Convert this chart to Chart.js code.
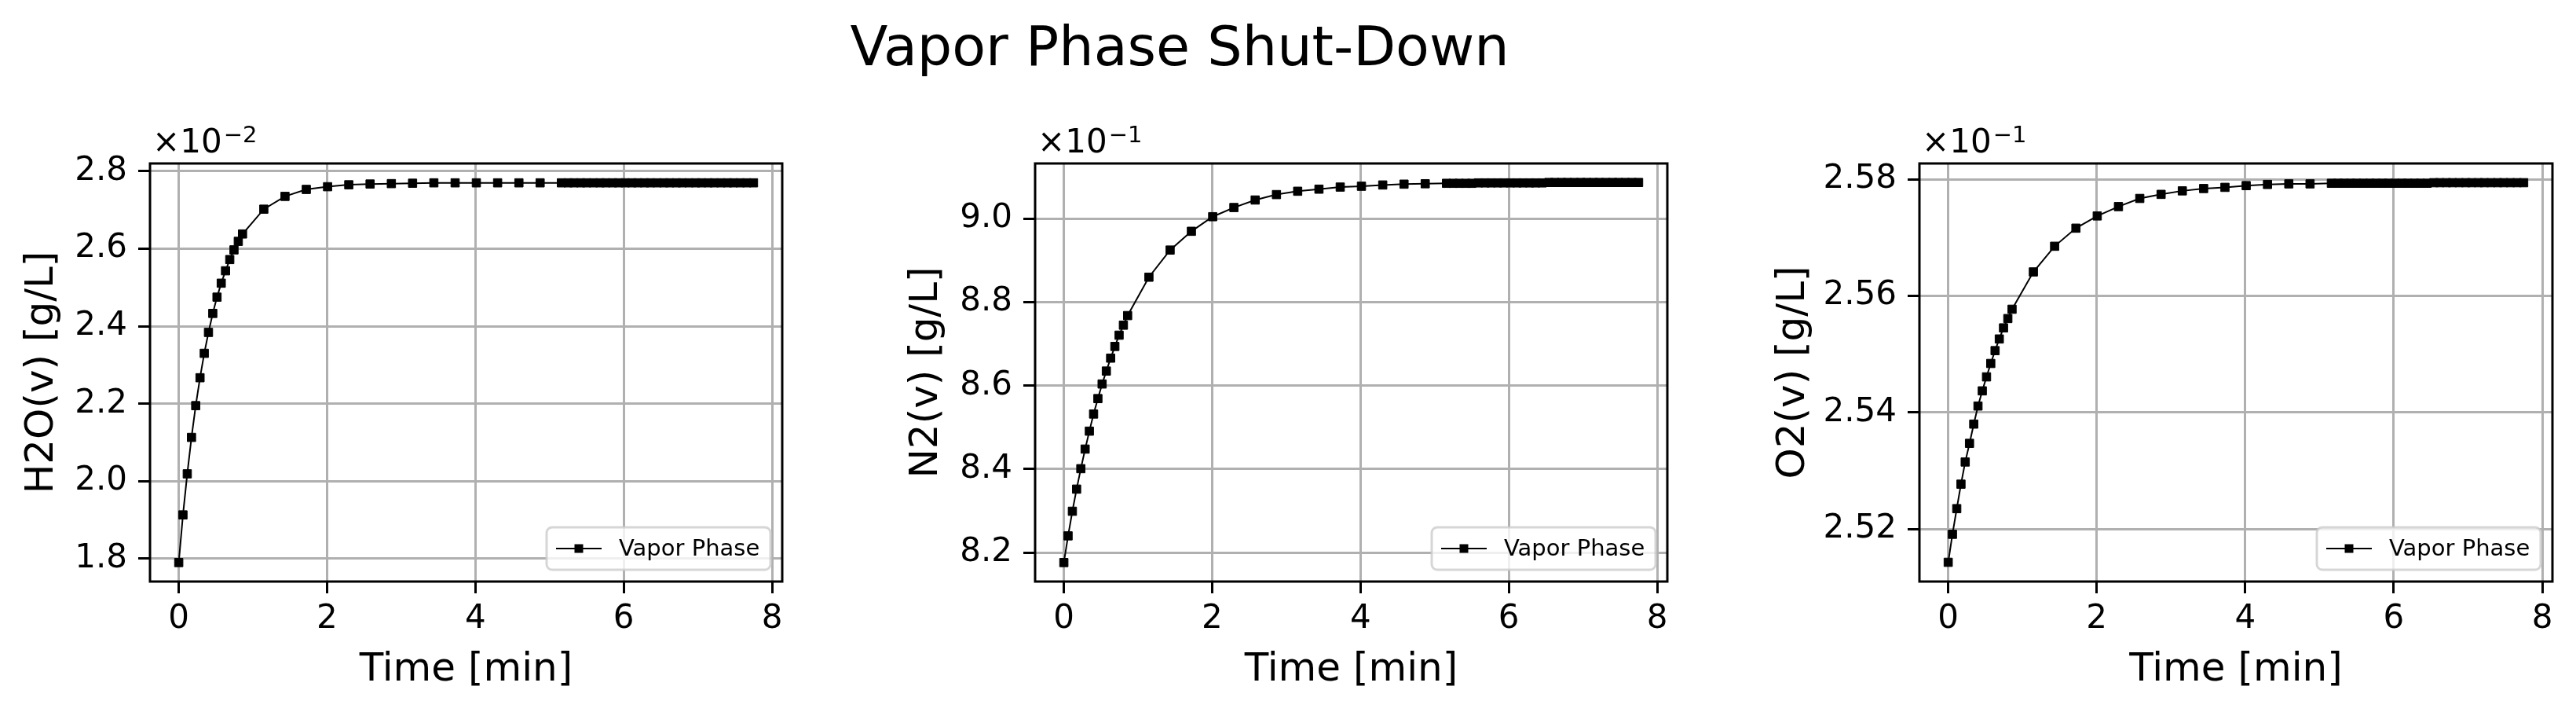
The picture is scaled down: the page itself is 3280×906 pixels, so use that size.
<!DOCTYPE html>
<html>
<head>
<meta charset="utf-8">
<script src="https://cdn.jsdelivr.net/npm/chart.js@4/dist/chart.umd.min.js"></script>
<style>
  html, body { margin: 0; padding: 0; background: #fff; }
  #wrap { position: relative; width: 3280px; height: 906px; overflow: hidden; }
  #wrap canvas { position: absolute; left: 0; top: 0; }
  #title {
    position: absolute; left: 1502px; top: 24px; transform: translateX(-50%);
    font: 70px "DejaVu Sans"; line-height: 1; white-space: nowrap; color: #000;
  }
</style>
</head>
<body>
<div id="wrap">
  <div id="title">Vapor Phase Shut-Down</div>
  <canvas id="c1" width="3280" height="906"></canvas>
  <canvas id="c2" width="3280" height="906"></canvas>
  <canvas id="c3" width="3280" height="906"></canvas>
</div>
<script>
// time [min]
const time = [0, 0.057, 0.115, 0.172, 0.229, 0.287, 0.344, 0.401, 0.459, 0.516, 0.573, 0.631, 0.688, 0.745, 0.803, 0.860,
  1.147, 1.433, 1.720, 2.007, 2.293, 2.580, 2.867, 3.153, 3.440, 3.727, 4.013, 4.300, 4.587, 4.873, 5.160,
  5.25, 5.33, 5.42, 5.50, 5.59, 5.68, 5.76, 5.85, 5.93, 6.02, 6.11, 6.19, 6.28, 6.36, 6.45,
  6.54, 6.62, 6.71, 6.79, 6.88, 6.97, 7.05, 7.14, 7.22, 7.31, 7.40, 7.48, 7.57, 7.66, 7.75];

// values as shown on the axes (H2O x1e-2, N2 and O2 x1e-1) [g/L]
const h2o = [1.790, 1.913, 2.019, 2.113, 2.195, 2.267, 2.330, 2.384, 2.433, 2.475, 2.511, 2.543, 2.572, 2.597, 2.619, 2.638,
  2.702, 2.735, 2.753, 2.760, 2.765, 2.767, 2.768, 2.769, 2.770, 2.770, 2.770, 2.770, 2.770, 2.770, 2.770,
  2.770, 2.770, 2.770, 2.770, 2.770, 2.770, 2.770, 2.770, 2.770, 2.770, 2.770, 2.770, 2.770, 2.770, 2.770,
  2.770, 2.770, 2.770, 2.770, 2.770, 2.770, 2.770, 2.770, 2.770, 2.770, 2.770, 2.770, 2.770, 2.770, 2.770];

const n2 = [8.176, 8.240, 8.299, 8.352, 8.401, 8.448, 8.491, 8.532, 8.569, 8.604, 8.635, 8.666, 8.694, 8.721, 8.745, 8.768,
  8.860, 8.925, 8.970, 9.005, 9.027, 9.045, 9.058, 9.066, 9.071, 9.076, 9.078, 9.081, 9.083, 9.084, 9.085,
  9.085, 9.085, 9.085, 9.085, 9.086, 9.086, 9.086, 9.086, 9.086, 9.086, 9.086, 9.086, 9.086, 9.086, 9.086,
  9.087, 9.087, 9.087, 9.087, 9.087, 9.087, 9.087, 9.087, 9.087, 9.087, 9.087, 9.087, 9.087, 9.087, 9.087];

const o2 = [2.5143, 2.5191, 2.5235, 2.5277, 2.5315, 2.5347, 2.5380, 2.5411, 2.5437, 2.5461, 2.5484, 2.5506, 2.5526, 2.5545, 2.5561, 2.5577,
  2.5641, 2.5685, 2.5716, 2.5737, 2.5753, 2.5767, 2.5774, 2.5780, 2.5784, 2.5786, 2.5789, 2.5791, 2.5792, 2.5792, 2.5793,
  2.5793, 2.5793, 2.5793, 2.5793, 2.5793, 2.5793, 2.5793, 2.5793, 2.5793, 2.5793, 2.5793, 2.5793, 2.5793, 2.5793, 2.5793,
  2.5794, 2.5794, 2.5794, 2.5794, 2.5794, 2.5794, 2.5794, 2.5794, 2.5794, 2.5794, 2.5794, 2.5794, 2.5794, 2.5794, 2.5794];

// tick values
const xTicks = [0, 2, 4, 6, 8];
const h2oTicks = [1.8, 2.0, 2.2, 2.4, 2.6, 2.8];
const n2Ticks = [8.2, 8.4, 8.6, 8.8, 9.0];
const o2Ticks = [2.52, 2.54, 2.56, 2.58];

const FONT = 'DejaVu Sans';
Chart.defaults.font.family = FONT;
Chart.defaults.color = '#000';

// spines, offset text (x10^n) and the in-axes legend
const framePlugin = {
  id: 'frame',
  afterDatasetsDraw(chart, args, opts) {
    const ctx = chart.ctx;
    const a = chart.chartArea;
    ctx.save();

    ctx.strokeStyle = '#000';
    ctx.lineWidth = 3;
    ctx.strokeRect(a.left, a.top, a.right - a.left, a.bottom - a.top);

    ctx.fillStyle = '#000';
    ctx.textAlign = 'left';
    ctx.textBaseline = 'alphabetic';
    ctx.font = '42px "' + FONT + '"';
    ctx.fillText('\u00d710', a.left + 3, 194);
    const w = ctx.measureText('\u00d710').width;
    ctx.font = '29px "' + FONT + '"';
    ctx.fillText(opts.exp, a.left + 5 + w, 181);

    // legend box, lower right
    const bw = 285, bh = 54;
    const bx = a.right - 15 - bw, by = a.bottom - 15 - bh;
    ctx.beginPath();
    ctx.roundRect(bx, by, bw, bh, 7);
    ctx.fillStyle = 'rgba(255,255,255,0.8)';
    ctx.fill();
    ctx.strokeStyle = 'rgba(204,204,204,0.8)';
    ctx.lineWidth = 3;
    ctx.stroke();
    const cy = by + bh / 2;
    ctx.strokeStyle = '#000';
    ctx.lineWidth = 2;
    ctx.beginPath();
    ctx.moveTo(bx + 12, cy);
    ctx.lineTo(bx + 70, cy);
    ctx.stroke();
    ctx.fillStyle = '#000';
    ctx.fillRect(bx + 41 - 5.5, cy - 5.5, 11, 11);
    ctx.font = '29px "' + FONT + '"';
    ctx.textBaseline = 'middle';
    ctx.fillText(chart.data.datasets[0].label, bx + 92, cy + 1);
    ctx.restore();
  }
};

function makePanel(id, p) {
  const ctx = document.getElementById(id).getContext('2d');
  return new Chart(ctx, {
    type: 'line',
    data: {
      datasets: [{
        label: 'Vapor Phase',
        data: time.map((t, i) => ({ x: t, y: p.values[i] })),
        borderColor: '#000',
        backgroundColor: '#000',
        borderWidth: 2,
        pointStyle: 'rect',
        pointRadius: 7.5,
        pointBorderWidth: 1,
        tension: 0,
        fill: false
      }]
    },
    options: {
      responsive: false,
      animation: false,
      devicePixelRatio: 1,
      layout: { padding: { left: p.left - p.wy, right: 3280 - p.right, top: 208, bottom: 23 } },
      plugins: {
        legend: { display: false },
        tooltip: { enabled: false },
        frame: { exp: p.exp }
      },
      scales: {
        x: {
          type: 'linear',
          min: -0.3875,
          max: 8.1375,
          afterBuildTicks: s => { s.ticks = xTicks.map(v => ({ value: v })); },
          afterFit: s => { s.height = 143; },
          grid: { color: '#b0b0b0', lineWidth: 3, tickColor: '#000', tickLength: 15, tickWidth: 3 },
          border: { display: false },
          ticks: { font: { size: 42 }, padding: 8, maxRotation: 0, autoSkip: false, callback: v => String(v) },
          title: { display: true, text: 'Time [min]', font: { size: 50 }, padding: 0 }
        },
        y: {
          type: 'linear',
          min: p.min,
          max: p.max,
          afterBuildTicks: s => { s.ticks = p.ticks.map(v => ({ value: v })); },
          afterFit: s => { s.width = p.wy; },
          grid: { color: '#b0b0b0', lineWidth: 3, tickColor: '#000', tickLength: 15, tickWidth: 3 },
          border: { display: false },
          ticks: { font: { size: 42 }, padding: 14, autoSkip: false, callback: v => v.toFixed(p.dec) },
          title: { display: true, text: p.label, font: { size: 50 }, padding: 0 }
        }
      }
    },
    plugins: [framePlugin]
  });
}

makePanel('c1', { left: 191, right: 996, wy: 167, values: h2o, ticks: h2oTicks, min: 1.741, max: 2.820, dec: 1, label: 'H2O(v) [g/L]', exp: '\u22122' });
makePanel('c2', { left: 1318, right: 2123, wy: 168, values: n2, ticks: n2Ticks, min: 8.1305, max: 9.1326, dec: 1, label: 'N2(v) [g/L]', exp: '\u22121' });
makePanel('c3', { left: 2444, right: 3250, wy: 190, values: o2, ticks: o2Ticks, min: 2.5110, max: 2.5827, dec: 2, label: 'O2(v) [g/L]', exp: '\u22121' });
</script>
</body>
</html>
